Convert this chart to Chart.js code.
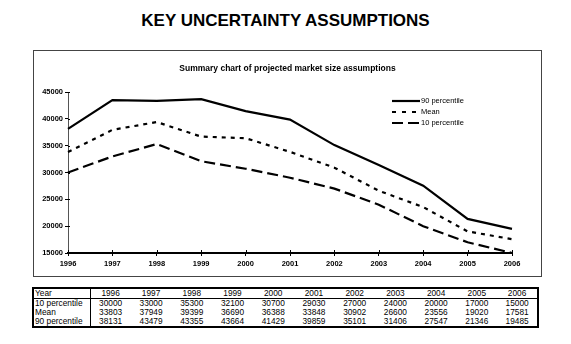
<!DOCTYPE html>
<html><head><meta charset="utf-8">
<script src="https://cdn.jsdelivr.net/npm/chart.js@4.4.0/dist/chart.umd.min.js"></script>
<style>
html,body{margin:0;padding:0;background:#fff;}
body{width:571px;height:344px;position:relative;overflow:hidden;font-family:"Liberation Sans",Arial,sans-serif;color:#000;}
#title{position:absolute;left:0;width:571px;top:11px;text-align:center;font-weight:bold;font-size:17px;line-height:20px;}
#box{position:absolute;left:33px;top:50px;width:507px;height:225px;border:1px solid #444;}
#sub{position:absolute;left:0;width:100%;top:12px;text-align:center;font-weight:bold;font-size:8.5px;line-height:10px;}
#cv{position:absolute;left:0;top:0;}
table{position:absolute;left:32px;top:287px;width:507px;border-collapse:collapse;border:2px solid #000;font-size:8.3px;line-height:9px;table-layout:fixed;}
td{padding:0 1px;text-align:center;white-space:nowrap;overflow:hidden;}
td:first-child{text-align:left;border-right:1px solid #000;padding-left:1px;}
tr:first-child td{border-bottom:1px solid #000;}
</style>
</head><body>
<div id="title">KEY UNCERTAINTY ASSUMPTIONS</div>
<div id="box">
<canvas id="cv" width="507" height="225"></canvas>
<div id="sub">Summary chart of projected market size assumptions</div>
</div>
<table id="tbl"></table>
<script>
const years = ['1996','1997','1998','1999','2000','2001','2002','2003','2004','2005','2006'];
const p10  = [30000,33000,35300,32100,30700,29030,27000,24000,20000,17000,15000];
const mean = [33803,37949,39399,36690,36388,33848,30902,26600,23556,19020,17581];
const p90  = [38131,43479,43355,43664,41429,39859,35101,31406,27547,21346,19485];
const yMin = 15000, yMax = 45000, yStep = 5000;

const FONT = '"Liberation Sans", Arial, sans-serif';

// table
(function(){
  const t = document.getElementById('tbl');
  let html = '<colgroup><col style="width:57px">' + years.map(()=>'<col>').join('') + '</colgroup>';
  html += '<tr><td>Year</td>' + years.map(y=>'<td>'+y+'</td>').join('') + '</tr>';
  const rows = [['10 percentile',p10],['Mean',mean],['90 percentile',p90]];
  rows.forEach(r=>{ html += '<tr><td>'+r[0]+'</td>' + r[1].map(v=>'<td>'+v+'</td>').join('') + '</tr>'; });
  t.innerHTML = html;
})();

const legendPlugin = {
  id:'insideLegend',
  afterDraw(chart){
    const ctx = chart.ctx, a = chart.chartArea;
    const x0 = a.right - 120, x1 = a.right - 92;
    chart.data.datasets.forEach((ds,i)=>{
      const y = a.top + 9 + i*11;
      ctx.save();
      ctx.strokeStyle = '#000';
      ctx.lineWidth = ds.borderWidth;
      ctx.setLineDash(ds.legendDash || ds.borderDash || []);
      ctx.beginPath(); ctx.moveTo(x0,y); ctx.lineTo(x1,y); ctx.stroke();
      ctx.setLineDash([]);
      ctx.fillStyle = '#000';
      ctx.font = '7.5px ' + FONT;
      ctx.textBaseline = 'middle';
      ctx.fillText(ds.label, x1+1, y);
      ctx.restore();
    });
  }
};
const crossTicks = {
  id:'crossTicks',
  afterDraw(chart){
    const ctx = chart.ctx, a = chart.chartArea;
    const ys = chart.scales.y, xs = chart.scales.x;
    ctx.save();
    ctx.strokeStyle = '#000'; ctx.lineWidth = 1;
    ys.ticks.forEach(t=>{
      const p = Math.round(ys.getPixelForValue(t.value))+0.5;
      ctx.beginPath(); ctx.moveTo(a.left, p); ctx.lineTo(a.left+2, p); ctx.stroke();
    });
    xs.ticks.forEach((t,i)=>{
      const p = Math.round(xs.getPixelForValue(i))+0.5;
      ctx.beginPath(); ctx.moveTo(p, a.bottom); ctx.lineTo(p, a.bottom-3); ctx.stroke();
    });
    ctx.restore();
  }
};

new Chart(document.getElementById('cv'), {
  type:'line',
  data:{
    labels: years,
    datasets:[
      {label:'90 percentile', data:p90, borderColor:'#000', borderWidth:2.2, borderDash:[]},
      {label:'Mean', data:mean, borderColor:'#000', borderWidth:2.2, borderDash:[4,5], legendDash:[4,6]},
      {label:'10 percentile', data:p10, borderColor:'#000', borderWidth:2.2, borderDash:[11,5], legendDash:[11,5]}
    ]
  },
  options:{
    responsive:false, animation:false, devicePixelRatio:1,
    layout:{padding:{left:0,right:29,top:41,bottom:0}},
    plugins:{legend:{display:false},title:{display:false},tooltip:{enabled:false}},
    elements:{point:{radius:0},line:{tension:0,fill:false}},
    scales:{
      x:{
        type:'category', offset:false,
        grid:{display:true,drawOnChartArea:false,tickLength:3,color:'#000'},
        border:{display:true,color:'#000',width:2},
        ticks:{color:'#000',font:{size:7.5,weight:'bold',family:FONT},padding:3,maxRotation:0,autoSkip:false},
        afterFit(s){ s.height = 23; }
      },
      y:{
        min:yMin, max:yMax,
        grid:{display:true,drawOnChartArea:false,tickLength:3,color:'#000'},
        border:{display:true,color:'#555',width:1},
        ticks:{stepSize:yStep,color:'#000',font:{size:7.5,weight:'bold',family:FONT},padding:2,callback:v=>String(v)},
        afterFit(s){ s.width = 34; }
      }
    }
  },
  plugins:[legendPlugin, crossTicks]
});
</script>
</body></html>
